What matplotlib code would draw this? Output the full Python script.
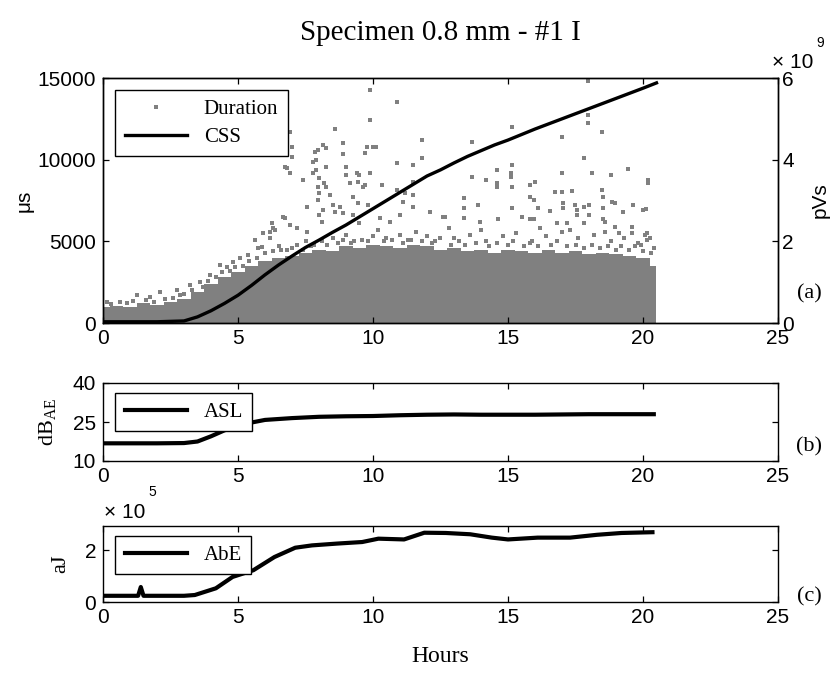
import numpy as np
import matplotlib.pyplot as plt
from matplotlib.ticker import FuncFormatter

plt.rcParams['font.family'] = ['Liberation Sans', 'DejaVu Sans']
plt.rcParams['font.size'] = 15
plt.rc('xtick', direction='in', top=True)
plt.rc('ytick', direction='in', right=True)
plt.rc('xtick.major', size=4, pad=4, width=0.9)
plt.rc('ytick.major', size=4, pad=5, width=0.9)
plt.rc('axes', linewidth=1.0)

SERIF = ['Liberation Serif', 'DejaVu Serif']
GRAY = '#808080'

# ---- data ----
# dense part of the Duration cloud (upper edge, microseconds)
dense_hours = [0, 0.5, 1, 1.5, 2, 2.5, 3, 3.5, 4, 4.5, 5, 5.5, 6, 6.5, 7, 7.5, 8, 8.5,
               9, 9.5, 10, 10.5, 11, 11.5, 12, 12.5, 13, 13.5, 14, 14.5, 15, 15.5,
               16, 16.5, 17, 17.5, 18, 18.5, 19, 19.5, 20, 20.5]
dense_top = [1000, 1050, 950, 1200, 1100, 1300, 1500, 1900, 2400, 2800, 3100, 3500,
             3800, 4000, 4100, 4300, 4500, 4400, 4700, 4600, 4800, 4700, 4600, 4800,
             4700, 4500, 4600, 4400, 4500, 4300, 4500, 4400, 4300, 4500, 4300, 4400,
             4200, 4300, 4200, 4100, 4000, 3500]

# scattered Duration points (hours, microseconds)
duration_pts = [
    (0.14, 1300), (0.63, 1300), (1.25, 1710), (1.74, 1610), (2.11, 1920), (2.73, 2020),
    (2.85, 1710), (3.22, 2330), (3.59, 2530), (3.96, 2940), (4.33, 3550), (4.58, 3450),
    (4.83, 3750), (5.07, 3960), (5.38, 4160), (5.63, 5080), (5.75, 4570), (5.9, 4670),
    (5.94, 5490), (6.19, 5180), (6.2, 5590), (6.25, 6100), (6.31, 5800), (6.37, 5690),
    (6.68, 6500), (6.68, 10280), (6.74, 11950), (6.74, 9570), (6.74, 6410), (6.8, 9470),
    (6.93, 11670), (6.93, 9160), (6.93, 6000), (6.99, 10790), (6.99, 10180), (7.19, 5800),
    (7.42, 8750), (7.54, 7120), (7.54, 5590), (7.79, 9870), (7.79, 9160), (7.85, 10480),
    (7.9, 9360), (7.9, 9980), (7.96, 7530), (7.96, 8340), (7.97, 10590), (8.0, 8850),
    (8.0, 7940), (8.0, 6610), (8.1, 6200), (8.15, 6920), (8.16, 10890), (8.2, 8550),
    (8.27, 10690), (8.27, 9570), (8.27, 8340), (8.4, 7830), (8.52, 7220), (8.59, 11870),
    (8.6, 6810), (8.77, 7120), (8.9, 11000), (8.9, 10320), (8.9, 6710), (9.0, 9060),
    (9.0, 9570), (9.15, 8550), (9.26, 7730), (9.26, 6610), (9.4, 9160), (9.45, 8650),
    (9.45, 7330), (9.5, 9060), (9.5, 6100), (9.63, 8340), (9.7, 10380), (9.7, 8450),
    (9.77, 10790), (9.82, 7220), (9.89, 14260), (9.89, 12420), (9.89, 9160), (10.01, 10790),
    (10.1, 10790), (10.26, 6410), (10.32, 8450), (10.63, 6200), (10.88, 13540), (10.9, 9770),
    (10.9, 8140), (10.99, 6610), (11.1, 7420), (11.2, 7940), (11.49, 9670), (11.49, 8650),
    (11.49, 7830), (11.49, 7120), (11.8, 11200), (11.8, 10080), (12.1, 6810), (12.6, 6500),
    (12.67, 6500), (13.38, 7630), (13.38, 7020), (13.38, 6450), (13.65, 8950), (13.68, 11100),
    (13.9, 7220), (13.96, 6200), (14.17, 8750), (14.6, 9360), (14.6, 8550), (14.6, 8340),
    (14.64, 6350), (15.1, 9160), (15.1, 8950), (15.14, 12020), (15.14, 9670), (15.14, 8340),
    (15.14, 7020), (15.51, 6500), (15.81, 8450), (15.81, 7730), (15.81, 6350), (15.96, 7530),
    (15.96, 6350), (16.0, 8650), (16.12, 7020), (16.56, 6850), (16.74, 7990), (16.8, 6100),
    (16.99, 11400), (16.99, 9200), (16.99, 7990), (17.05, 7330), (17.05, 7020), (17.2, 6100),
    (17.38, 8100), (17.48, 7220), (17.54, 6920), (17.54, 6610), (17.81, 10080), (17.81, 7120),
    (17.81, 6100), (17.98, 14810), (17.98, 12730), (17.98, 12220), (18.0, 7220), (18.0, 6610),
    (18.12, 9200), (18.47, 11670), (18.47, 8140), (18.5, 7730), (18.5, 7020), (18.5, 6350),
    (18.6, 6200), (18.6, 5590), (18.8, 9060), (18.84, 7420), (18.96, 7330), (18.96, 5890),
    (19.1, 5490), (19.27, 6810), (19.46, 9400), (19.58, 5890), (19.58, 5490), (19.64, 7220),
    (19.94, 4770), (20.0, 6920), (20.07, 5390), (20.1, 6990), (20.14, 5490), (20.14, 5080),
    (20.2, 8550), (20.2, 8750), (20.25, 5180),
    (6.6, 4500), (7.0, 4600), (7.5, 5000), (7.8, 4800), (8.5, 5200), (9.0, 5400),
    (9.3, 5000), (9.6, 5100), (10.2, 5700), (10.5, 5200), (11.0, 5400), (11.3, 5100),
    (11.6, 5600), (12.0, 5300), (12.3, 5000), (12.8, 5800), (13.0, 5200), (13.6, 5400),
    (14.0, 5700), (14.2, 5000), (14.8, 5300), (15.3, 5500), (15.9, 5000), (16.2, 5800),
    (16.4, 5300), (17.0, 5600), (17.3, 5700), (17.6, 5200), (18.2, 5400), (18.8, 5000),
    (19.3, 5200), (19.8, 4900),
    # ragged rim just above the dense band
    (0.3, 1150), (0.9, 1200), (1.1, 1350), (1.6, 1400), (1.9, 1300), (2.3, 1450),
    (2.6, 1550), (3.0, 1750), (3.3, 2000), (3.7, 2200), (3.9, 2600), (4.2, 2800),
    (4.4, 3100), (4.7, 3200), (4.9, 3400), (5.2, 3500), (5.4, 3800), (5.7, 4000),
    (6.0, 4300), (6.3, 4400), (6.5, 4700), (6.8, 4500), (7.2, 4800), (7.4, 4500),
    (7.7, 4700), (8.1, 5000), (8.3, 4800), (8.7, 4900), (8.9, 5100), (9.2, 4900),
    (9.8, 5000), (10.0, 5300), (10.4, 5000), (10.7, 5100), (11.1, 4900), (11.4, 5100),
    (11.8, 5000), (12.2, 4900), (12.5, 5200), (12.9, 4800), (13.2, 5000), (13.4, 4800),
    (13.8, 4900), (14.3, 4700), (14.6, 4900), (15.0, 4800), (15.2, 5000), (15.6, 4700),
    (15.8, 4900), (16.1, 4700), (16.6, 4800), (16.8, 5000), (17.2, 4700), (17.5, 4800),
    (17.8, 4600), (18.1, 4800), (18.4, 4600), (18.7, 4700), (19.0, 4500), (19.2, 4700),
    (19.5, 4500), (19.7, 4700), (20.0, 4400), (20.3, 4300), (20.4, 4600),
]

css_hours = [0, 1, 2, 3, 3.5, 4, 4.5, 5, 5.5, 6, 6.5, 7, 7.5, 8, 8.5, 9, 9.5, 10, 10.5,
             11, 11.5, 12, 12.5, 13, 13.5, 14, 14.5, 15, 16, 17, 18, 19, 20, 20.5]
css_pvs = [0.03e9, 0.03e9, 0.03e9, 0.05e9, 0.15e9, 0.30e9, 0.48e9, 0.68e9, 0.92e9,
           1.18e9, 1.42e9, 1.64e9, 1.85e9, 2.03e9, 2.22e9, 2.40e9, 2.60e9, 2.80e9,
           3.00e9, 3.20e9, 3.40e9, 3.60e9, 3.75e9, 3.92e9, 4.08e9, 4.22e9, 4.36e9,
           4.48e9, 4.75e9, 5.00e9, 5.25e9, 5.50e9, 5.75e9, 5.88e9]

asl_hours = [0, 1, 2, 3, 3.5, 4, 4.5, 5, 5.5, 6, 7, 8, 9, 10, 11, 12, 13, 14, 15, 16,
             17, 18, 19, 20, 20.4]
asl_db = [16.8, 16.8, 16.8, 16.9, 17.5, 19.5, 21.8, 23.5, 24.8, 25.8, 26.5, 27.0, 27.2,
          27.3, 27.6, 27.8, 27.9, 27.8, 27.8, 27.8, 27.9, 28.0, 28.0, 28.0, 28.0]

abe_hours = [0, 1, 1.3, 1.4, 1.5, 2, 3, 3.4, 4.18, 4.8, 5.57, 6.35, 7.12, 7.74, 8.67,
             9.6, 10.2, 11.15, 11.9, 12.7, 13.6, 14.4, 15.0, 16.1, 17.3, 18.3, 19.2, 20.35]
abe_aj = [0.24e5, 0.24e5, 0.24e5, 0.58e5, 0.24e5, 0.24e5, 0.24e5, 0.27e5, 0.53e5,
          0.97e5, 1.23e5, 1.74e5, 2.10e5, 2.19e5, 2.26e5, 2.32e5, 2.45e5, 2.42e5,
          2.68e5, 2.67e5, 2.62e5, 2.49e5, 2.42e5, 2.49e5, 2.49e5, 2.60e5, 2.67e5, 2.70e5]

hour_ticks = [0, 5, 10, 15, 20, 25]

pts_h = [p[0] for p in duration_pts]
pts_us = [p[1] for p in duration_pts]

fig = plt.figure(figsize=(8.32, 6.77), dpi=100)
W, H = 832, 677
left, width = 103 / W, 675 / W
leg_kw = dict(loc='upper left', borderaxespad=0, fancybox=False, edgecolor='black',
              framealpha=1, handlelength=3, prop={'family': SERIF, 'size': 15})

# ---- (a) duration + CSS ----
ax1 = fig.add_axes([left, 1 - 323 / H, width, 245 / H])
ax1.fill_between(dense_hours, 0, dense_top, step='mid', color=GRAY, lw=0, zorder=1)
dur, = ax1.plot(pts_h, pts_us, 's', ms=2.4, color=GRAY, mew=0, label='Duration', zorder=2)
ax1.set_xlim(0, 25)
ax1.set_ylim(0, 15000)
ax1.set_xticks(hour_ticks)
ax1.set_yticks([0, 5000, 10000, 15000])
ax1.tick_params(right=False)
ax1.set_ylabel('μs', labelpad=3)

ax2 = ax1.twinx()
css, = ax2.plot(css_hours, css_pvs, '-', color='black', lw=2.4, label='CSS')
ax2.set_ylim(0, 6e9)
ax2.set_yticks([0, 2e9, 4e9, 6e9])
ax2.yaxis.set_major_formatter(FuncFormatter(lambda v, p: f'{v / 1e9:g}'))
ax2.yaxis.get_offset_text().set_visible(False)
ax2.tick_params(axis='y', direction='in', right=True, pad=3)
ax2.set_ylabel('pVs', labelpad=12)
ax2.legend(handles=[dur, css], bbox_to_anchor=(0.018, 0.951), numpoints=1,
           labelspacing=0.4, borderpad=0.45, **leg_kw)

# ---- (b) ASL ----
axb = fig.add_axes([left, 1 - 461 / H, width, 78 / H])
axb.plot(asl_hours, asl_db, '-', color='black', lw=3, label='ASL')
axb.set_xlim(0, 25)
axb.set_ylim(10, 40)
axb.set_xticks(hour_ticks)
axb.set_yticks([10, 25, 40])
axb.set_ylabel(r'dB$_\mathregular{AE}$', family=SERIF, fontsize=16, labelpad=10)
axb.legend(bbox_to_anchor=(0.018, 0.87), borderpad=0.45, **leg_kw)

# ---- (c) AbE ----
axc = fig.add_axes([left, 1 - 602 / H, width, 76 / H])
axc.plot(abe_hours, abe_aj, '-', color='black', lw=3, label='AbE')
axc.set_xlim(0, 25)
axc.set_ylim(0, 2.94e5)
axc.set_xticks(hour_ticks)
axc.set_yticks([0, 2e5])
axc.yaxis.set_major_formatter(FuncFormatter(lambda v, p: f'{v / 1e5:g}'))
axc.yaxis.get_offset_text().set_visible(False)
axc.set_ylabel('aJ', family=SERIF, fontsize=16, labelpad=10)
axc.legend(bbox_to_anchor=(0.018, 0.87), borderpad=0.45, **leg_kw)

# ---- text ----
fig.text(440 / W, 1 - 33 / H, 'Specimen 0.8 mm - #1 I', ha='center', va='center',
         family=SERIF, fontsize=21)
fig.text(440 / W, 1 - 657 / H, 'Hours', ha='center', va='center', family=SERIF, fontsize=17)
for lab, y in [('(a)', 294), ('(b)', 447), ('(c)', 597)]:
    fig.text(809 / W, 1 - y / H, lab, ha='center', va='center', family=SERIF, fontsize=16)

fig.text(772 / W, 1 - 62 / H, '× 10', ha='left', va='center', fontsize=15)
fig.text(816 / W, 1 - 43 / H, '9', ha='left', va='center', fontsize=10)
fig.text(104 / W, 1 - 512 / H, '× 10', ha='left', va='center', fontsize=15)
fig.text(148 / W, 1 - 492 / H, '5', ha='left', va='center', fontsize=10)

fig.savefig('out.png', dpi=100)
